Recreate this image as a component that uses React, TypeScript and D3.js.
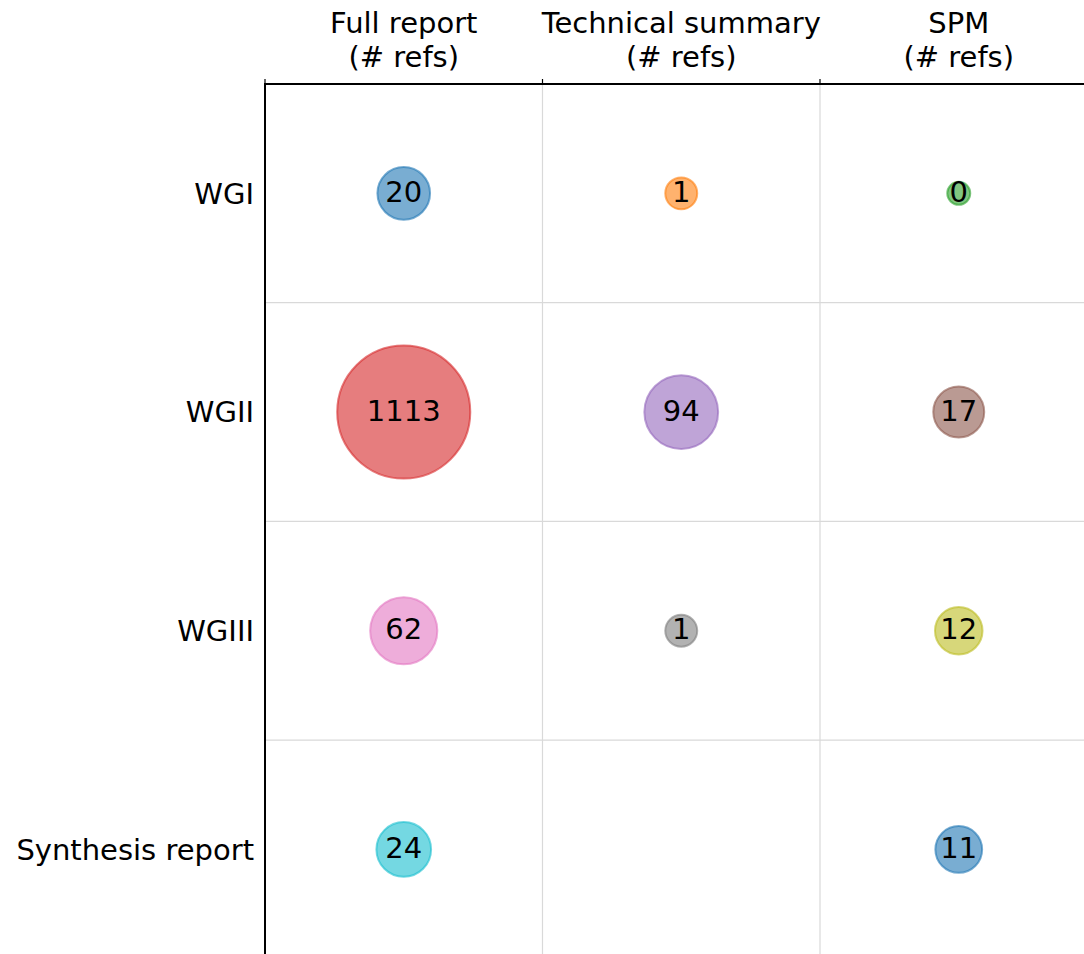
import * as d3 from 'd3'
import React from 'react'

// report sections (rows) and parts of the report (columns)
const rowLabels = ['WGI', 'WGII', 'WGIII', 'Synthesis report']
const colLabels = [
  ['Full report', '(# refs)'],
  ['Technical summary', '(# refs)'],
  ['SPM', '(# refs)'],
]

// number of references per cell, null = no bubble
const fullReport = [20, 1113, 62, 24]
const technicalSummary: (number | null)[] = [1, 94, 1, null]
const spm = [0, 17, 12, 11]

const width = 1084
const height = 954
const margin = { top: 84, left: 265 }
const cellW = 277.5
const cellH = 218.7

const App: React.FC = () => {
  const x = d3
    .scaleLinear()
    .domain([-0.5, 2.5])
    .range([margin.left, margin.left + cellW * 3])
  const y = d3
    .scaleLinear()
    .domain([-0.5, 3.5])
    .range([margin.top, margin.top + cellH * 4])

  // bubble area grows with the square root of the count
  const area = d3.scaleLinear().domain([0, 1]).range([156, 288])
  const radius = (v: number) => Math.sqrt(area(Math.sqrt(v))) - 1

  const columns = [fullReport, technicalSummary, spm]
  const colors = d3.schemeCategory10

  // plot order is row by row, colour cycles like matplotlib
  const points: { r: number; c: number; v: number; color: string }[] = []
  rowLabels.forEach((_, r) => {
    columns.forEach((col, c) => {
      const v = col[r]
      if (v === null || v === undefined) return
      points.push({ r, c, v, color: colors[points.length % colors.length] })
    })
  })

  const font = "'DejaVu Sans', sans-serif"
  const fontSize = 29

  return (
    <svg
      width={width}
      height={height}
      style={{ position: 'absolute', left: 0, top: 0, background: '#fff' }}
      fontFamily={font}
    >
      {/* grid lines at cell boundaries */}
      {[0.5, 1.5].map(t => (
        <line
          key={'gx' + t}
          x1={x(t)}
          x2={x(t)}
          y1={y(-0.5)}
          y2={y(3.5)}
          stroke="#d9d9d9"
          strokeWidth={1.2}
        />
      ))}
      {[0.5, 1.5, 2.5].map(t => (
        <line
          key={'gy' + t}
          x1={x(-0.5)}
          x2={x(2.5)}
          y1={y(t)}
          y2={y(t)}
          stroke="#d9d9d9"
          strokeWidth={1.2}
        />
      ))}

      {/* bubbles */}
      {points.map((p, i) => (
        <g key={i}>
          <circle
            cx={x(p.c)}
            cy={y(p.r)}
            r={radius(p.v)}
            fill={p.color}
            fillOpacity={0.6}
            stroke={p.color}
            strokeOpacity={0.6}
            strokeWidth={2}
          />
          <text
            x={x(p.c)}
            y={y(p.r)}
            dy="0.3em"
            textAnchor="middle"
            fontSize={fontSize}
            fill="#000"
          >
            {p.v}
          </text>
        </g>
      ))}

      {/* spines */}
      <line
        x1={x(-0.5)}
        x2={x(2.5)}
        y1={margin.top}
        y2={margin.top}
        stroke="#000"
        strokeWidth={2}
      />
      <line
        x1={margin.left}
        x2={margin.left}
        y1={margin.top - 1}
        y2={y(3.5)}
        stroke="#000"
        strokeWidth={2}
      />
      {[-0.5, 0.5, 1.5, 2.5].map(t => (
        <line
          key={'tk' + t}
          x1={x(t)}
          x2={x(t)}
          y1={margin.top}
          y2={margin.top - 5}
          stroke="#000"
          strokeWidth={1.2}
        />
      ))}

      {/* column labels */}
      {colLabels.map((lines, c) => (
        <text key={'c' + c} textAnchor="middle" fontSize={fontSize} fill="#000">
          {lines.map((l, k) => (
            <tspan key={k} x={x(c)} y={33 + k * 34}>
              {l}
            </tspan>
          ))}
        </text>
      ))}

      {/* row labels */}
      {rowLabels.map((l, r) => (
        <text
          key={'r' + r}
          x={margin.left - 11}
          y={y(r)}
          dy="0.36em"
          textAnchor="end"
          fontSize={fontSize}
          fill="#000"
        >
          {l}
        </text>
      ))}
    </svg>
  )
}

export default App
